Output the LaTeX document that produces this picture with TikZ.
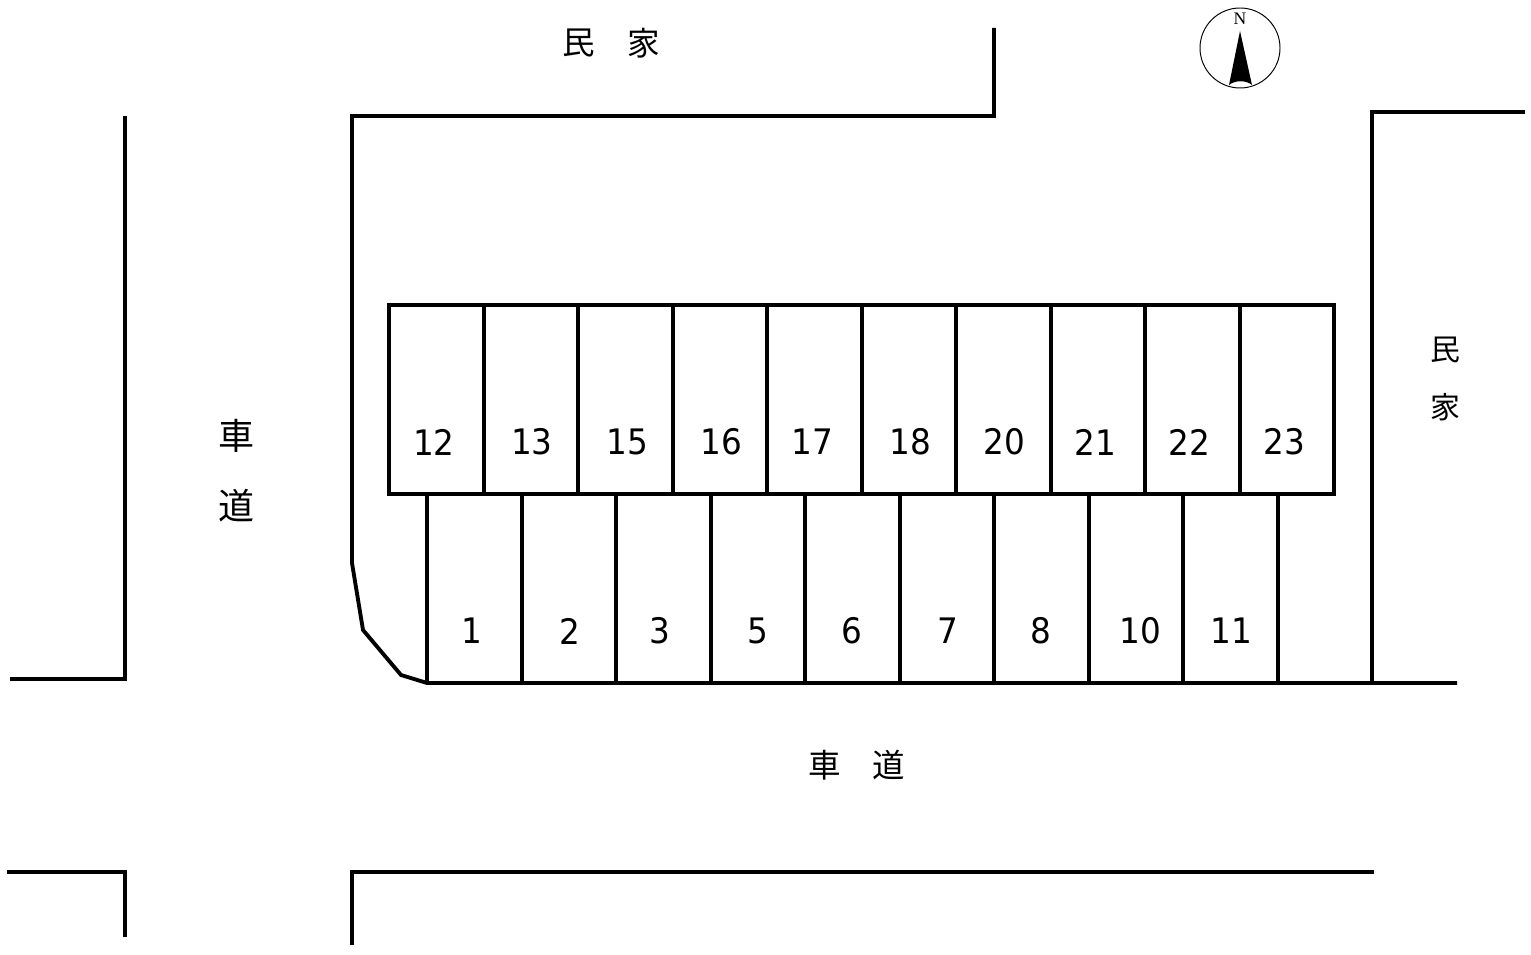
\documentclass[tikz,border=0pt]{standalone}
\usepackage{fontspec}
\setmainfont[FakeStretch=0.93]{DejaVu Sans}
\newfontfamily\jpfont{Noto Sans CJK JP}
\newfontfamily\serifont{Liberation Serif}

\tikzset{
    wall/.style={line width=2.2pt,line join=miter},
    numlab/.style={font=\fontsize{20}{20}\selectfont,inner sep=0pt},
    jplab/.style={font=\jpfont\fontsize{18.5}{20}\selectfont,inner sep=0pt},
    jpleft/.style={font=\jpfont\fontsize{20.5}{21}\selectfont,inner sep=0pt},
    jpright/.style={font=\jpfont\fontsize{17}{20}\selectfont,inner sep=0pt},
}

\begin{document}
\begin{tikzpicture}[x=0.02cm,y=-0.02cm]
    \useasboundingbox (0,0) rectangle (1531,955);

    % roads and neighbouring plots
    \draw[wall] (125,116) -- (125,679) -- (10,679);
    \draw[wall] (994,28) -- (994,116) -- (352,116) -- (352,563) -- (363,630) -- (401,675) -- (427,683) -- (1457,683);
    \draw[wall] (1372,683) -- (1372,112) -- (1525,112);
    \draw[wall] (7,872) -- (125,872) -- (125,937);
    \draw[wall] (352,945) -- (352,872) -- (1374,872);

    % parking bays
    \draw[wall] (389,305) rectangle (1334,494);
    \foreach \x in {484,578,673,767,862,956,1051,1145,1240} {
        \draw[wall] (\x,305) -- (\x,494);
    }
    \foreach \x in {427,522,616,711,805,900,994,1089,1183,1278} {
        \draw[wall] (\x,494) -- (\x,683);
    }

    \foreach \x/\mylab in {434/12, 532/13, 627/15, 721/16, 812/17, 910/18, 1004/20, 1095/21, 1189/22, 1284/23} {
        \node[numlab] (bay\mylab) at (\x,442) {\mylab};
    }
    \foreach \x/\mylab in {472/1, 570/2, 660/3, 758/5, 852/6, 948/7, 1041/8, 1140/10, 1231/11} {
        \node[numlab] (bay\mylab) at (\x,631) {\mylab};
    }

    % surroundings
    \node[jplab] (topmin) at (579,43) {民};
    \node[jplab] (topka) at (644,43) {家};
    \node[jpright] (rightmin) at (1445,350) {民};
    \node[jpright] (rightka) at (1445,407) {家};
    \node[jpleft] (leftsha) at (237,436) {車};
    \node[jpleft] (leftdo) at (237,506) {道};
    \node[jplab] (lowsha) at (825,765) {車};
    \node[jplab] (lowdo) at (889,765) {道};

    % north mark
    \draw[line width=0.55pt] (1240,48) circle (40);
    \fill (1240,31) -- (1252,85) .. controls (1246,80) and (1235,80) .. (1229,85) -- cycle;
    \node[font=\serifont\fontsize{10}{10}\selectfont,inner sep=0pt] (north) at (1240,19) {N};
\end{tikzpicture}
\end{document}
